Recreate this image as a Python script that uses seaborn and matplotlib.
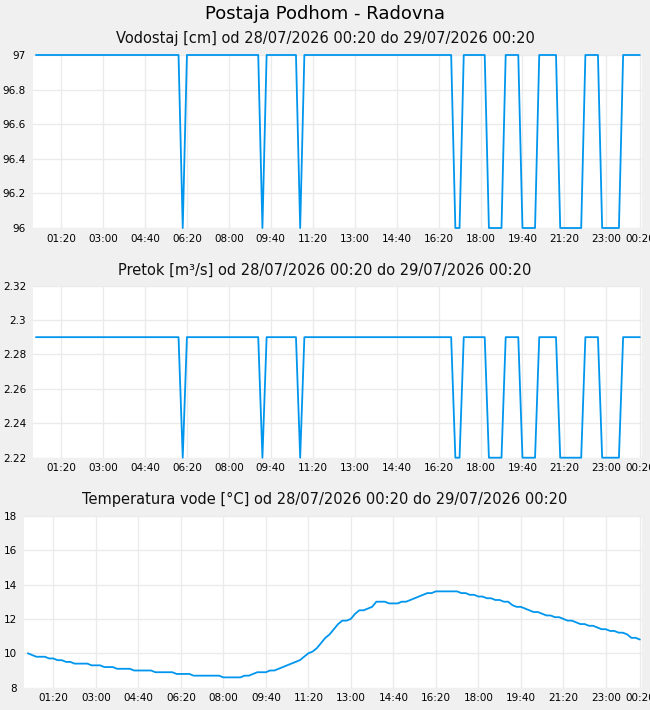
import pandas as pd
import matplotlib.pyplot as plt
import seaborn as sns

# meritve na 10 minut, 28/07/2026 00:20 - 29/07/2026 00:20 (145 tock)
vodostaj = [
    97, 97, 97, 97, 97, 97, 97, 97, 97, 97,
    97, 97, 97, 97, 97, 97, 97, 97, 97, 97,
    97, 97, 97, 97, 97, 97, 97, 97, 97, 97,
    97, 97, 97, 97, 97, 96, 97, 97, 97, 97,
    97, 97, 97, 97, 97, 97, 97, 97, 97, 97,
    97, 97, 97, 97, 96, 97, 97, 97, 97, 97,
    97, 97, 97, 96, 97, 97, 97, 97, 97, 97,
    97, 97, 97, 97, 97, 97, 97, 97, 97, 97,
    97, 97, 97, 97, 97, 97, 97, 97, 97, 97,
    97, 97, 97, 97, 97, 97, 97, 97, 97, 97,
    96, 96, 97, 97, 97, 97, 97, 97, 96, 96,
    96, 96, 97, 97, 97, 97, 96, 96, 96, 96,
    97, 97, 97, 97, 97, 96, 96, 96, 96, 96,
    96, 97, 97, 97, 97, 96, 96, 96, 96, 96,
    97, 97, 97, 97, 97,
]

pretok = [
    2.29, 2.29, 2.29, 2.29, 2.29, 2.29, 2.29, 2.29, 2.29, 2.29,
    2.29, 2.29, 2.29, 2.29, 2.29, 2.29, 2.29, 2.29, 2.29, 2.29,
    2.29, 2.29, 2.29, 2.29, 2.29, 2.29, 2.29, 2.29, 2.29, 2.29,
    2.29, 2.29, 2.29, 2.29, 2.29, 2.22, 2.29, 2.29, 2.29, 2.29,
    2.29, 2.29, 2.29, 2.29, 2.29, 2.29, 2.29, 2.29, 2.29, 2.29,
    2.29, 2.29, 2.29, 2.29, 2.22, 2.29, 2.29, 2.29, 2.29, 2.29,
    2.29, 2.29, 2.29, 2.22, 2.29, 2.29, 2.29, 2.29, 2.29, 2.29,
    2.29, 2.29, 2.29, 2.29, 2.29, 2.29, 2.29, 2.29, 2.29, 2.29,
    2.29, 2.29, 2.29, 2.29, 2.29, 2.29, 2.29, 2.29, 2.29, 2.29,
    2.29, 2.29, 2.29, 2.29, 2.29, 2.29, 2.29, 2.29, 2.29, 2.29,
    2.22, 2.22, 2.29, 2.29, 2.29, 2.29, 2.29, 2.29, 2.22, 2.22,
    2.22, 2.22, 2.29, 2.29, 2.29, 2.29, 2.22, 2.22, 2.22, 2.22,
    2.29, 2.29, 2.29, 2.29, 2.29, 2.22, 2.22, 2.22, 2.22, 2.22,
    2.22, 2.29, 2.29, 2.29, 2.29, 2.22, 2.22, 2.22, 2.22, 2.22,
    2.29, 2.29, 2.29, 2.29, 2.29,
]

temperatura = [
    10.0, 9.9, 9.8, 9.8, 9.8, 9.7, 9.7, 9.6, 9.6, 9.5,
    9.5, 9.4, 9.4, 9.4, 9.4, 9.3, 9.3, 9.3, 9.2, 9.2,
    9.2, 9.1, 9.1, 9.1, 9.1, 9.0, 9.0, 9.0, 9.0, 9.0,
    8.9, 8.9, 8.9, 8.9, 8.9, 8.8, 8.8, 8.8, 8.8, 8.7,
    8.7, 8.7, 8.7, 8.7, 8.7, 8.7, 8.6, 8.6, 8.6, 8.6,
    8.6, 8.7, 8.7, 8.8, 8.9, 8.9, 8.9, 9.0, 9.0, 9.1,
    9.2, 9.3, 9.4, 9.5, 9.6, 9.8, 10.0, 10.1, 10.3, 10.6,
    10.9, 11.1, 11.4, 11.7, 11.9, 11.9, 12.0, 12.3, 12.5, 12.5,
    12.6, 12.7, 13.0, 13.0, 13.0, 12.9, 12.9, 12.9, 13.0, 13.0,
    13.1, 13.2, 13.3, 13.4, 13.5, 13.5, 13.6, 13.6, 13.6, 13.6,
    13.6, 13.6, 13.5, 13.5, 13.4, 13.4, 13.3, 13.3, 13.2, 13.2,
    13.1, 13.1, 13.0, 13.0, 12.8, 12.7, 12.7, 12.6, 12.5, 12.4,
    12.4, 12.3, 12.2, 12.2, 12.1, 12.1, 12.0, 11.9, 11.9, 11.8,
    11.7, 11.7, 11.6, 11.6, 11.5, 11.4, 11.4, 11.3, 11.3, 11.2,
    11.2, 11.1, 10.9, 10.9, 10.8,
]

tick_labels = ["01:20", "03:00", "04:40", "06:20", "08:00", "09:40", "11:20",
               "13:00", "14:40", "16:20", "18:00", "19:40", "21:20", "23:00",
               "00:20"]

vodostaj_ticks = [96, 96.2, 96.4, 96.6, 96.8, 97]
pretok_ticks = [2.22, 2.24, 2.26, 2.28, 2.3, 2.32]
temp_ticks = [8, 10, 12, 14, 16, 18]

naslov = "Postaja Podhom - Radovna"
podnaslovi = [
    "Vodostaj [cm] od 28/07/2026 00:20 do 29/07/2026 00:20",
    "Pretok [m³/s] od 28/07/2026 00:20 do 29/07/2026 00:20",
    "Temperatura vode [°C] od 28/07/2026 00:20 do 29/07/2026 00:20",
]

start = pd.Timestamp("2026-07-28 00:20")
cas = pd.date_range(start, periods=len(vodostaj), freq="10min")
df = pd.DataFrame({"cas": cas, "vodostaj": vodostaj, "pretok": pretok,
                   "temperatura": temperatura})

tick_pos = list(pd.date_range("2026-07-28 01:20", "2026-07-28 23:00", freq="100min"))
tick_pos.append(pd.Timestamp("2026-07-29 00:20"))

sns.set_style("whitegrid", {"grid.color": "#ebebeb", "axes.edgecolor": "white"})
plt.rcParams["font.family"] = ["DejaVu Sans"]
plt.rcParams["text.color"] = "black"

BLUE = "#0096ee"
W, H = 650, 710

fig = plt.figure(figsize=(6.5, 7.1), dpi=100, facecolor="#f0f0f0")

# (stolpec, ylim, yticks, levo, zgoraj, spodaj v pikslih, odmik v min)
panels = [
    ("vodostaj", (96, 97), vodostaj_ticks, 33, 55, 228, 7),
    ("pretok", (2.22, 2.32), pretok_ticks, 33, 285.5, 457.7, 7),
    ("temperatura", (8, 18), temp_ticks, 24, 515.7, 687.7, 9),
]
sub_y = [39, 270, 499]

for (col, ylim, yticks, left, top, bottom, pad_min), sub, sy in zip(panels, podnaslovi, sub_y):
    ax = fig.add_axes([left / W, 1 - bottom / H, (642 - left) / W, (bottom - top) / H])
    ax.set_facecolor("white")
    sns.lineplot(data=df, x="cas", y=col, ax=ax, color=BLUE, linewidth=1.3,
                 clip_on=False)
    ax.set_ylim(*ylim)
    ax.set_yticks(yticks)
    ax.set_yticklabels([f"{t:g}" for t in yticks])
    ax.set_xlim(start - pd.Timedelta(minutes=pad_min), cas[-1] + pd.Timedelta(minutes=5))
    ax.set_xticks(tick_pos)
    ax.set_xticklabels(tick_labels)
    ax.tick_params(axis="both", length=0, labelsize=7.5, colors="black")
    ax.tick_params(axis="y", pad=5)
    ax.tick_params(axis="x", pad=4)
    ax.grid(True, color="#ebebeb", linewidth=1)
    ax.set_xlabel("")
    ax.set_ylabel("")
    for s in ax.spines.values():
        s.set_visible(False)
    fig.text(0.5, 1 - sy / H, sub, ha="center", va="center", fontsize=10.5,
             color="#111111")

fig.text(0.5, 1 - 14 / H, naslov, ha="center", va="center", fontsize=13,
         color="black")

plt.savefig("out.png", dpi=100, facecolor=fig.get_facecolor())
